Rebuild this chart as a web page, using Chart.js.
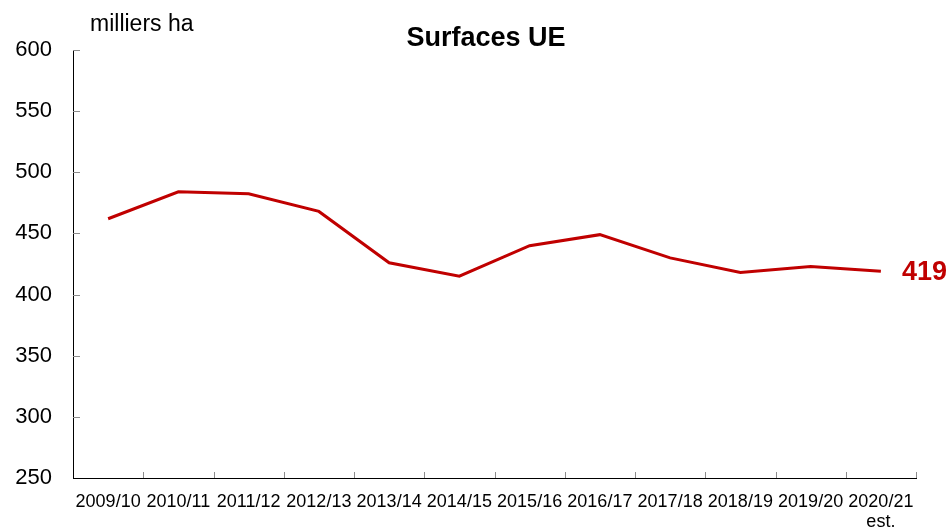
<!DOCTYPE html>
<html>
<head>
<meta charset="utf-8">
<script src="https://cdn.jsdelivr.net/npm/chart.js@4"></script>
<style>
  html, body { margin: 0; padding: 0; background: #fff; }
  #wrap { width: 951px; height: 529px; position: relative; }
</style>
</head>
<body>
<div id="wrap"><canvas id="c" width="951" height="529"></canvas></div>
<script>
const categories = [
  '2009/10', '2010/11', '2011/12', '2012/13', '2013/14', '2014/15',
  '2015/16', '2016/17', '2017/18', '2018/19', '2019/20', ['2020/21', 'est.']
];
const surfaces = [462, 484, 482.5, 468, 426, 415, 440, 449, 430, 418, 423, 419];
const yTicks = [250, 300, 350, 400, 450, 500, 550, 600];
const titleText = 'Surfaces UE';
const unitText = 'milliers ha';

const FONT = "'Liberation Sans', Arial, sans-serif";
const RED = '#C00000';

const overlay = {
  id: 'overlay',
  afterDraw(chart) {
    const ctx = chart.ctx;
    const xs = chart.scales.x, ys = chart.scales.y;
    const area = chart.chartArea;
    ctx.save();
    // inward tick marks
    ctx.strokeStyle = '#8c8c8c';
    ctx.lineWidth = 1;
    ctx.beginPath();
    yTicks.forEach(v => {
      if (v === yTicks[0]) return;
      const y = Math.round(ys.getPixelForValue(v)) + 0.5;
      ctx.moveTo(area.left, y);
      ctx.lineTo(area.left + 7, y);
    });
    for (let i = 1; i <= categories.length; i++) {
      const x = Math.round(area.left + (area.right - area.left) * i / categories.length) + 0.5;
      ctx.moveTo(x, area.bottom);
      ctx.lineTo(x, area.bottom - 6);
    }
    ctx.stroke();

    // title
    ctx.fillStyle = '#000';
    ctx.font = 'bold 27px ' + FONT;
    ctx.textAlign = 'center';
    ctx.textBaseline = 'alphabetic';
    ctx.fillText(titleText, 486, 46);

    // unit
    ctx.font = '23px ' + FONT;
    ctx.textAlign = 'left';
    ctx.fillText(unitText, 90, 31);

    // last value label
    const last = surfaces.length - 1;
    const px = xs.getPixelForValue(last);
    const py = ys.getPixelForValue(surfaces[last]);
    ctx.fillStyle = RED;
    ctx.font = 'bold 27px ' + FONT;
    ctx.textAlign = 'left';
    ctx.textBaseline = 'middle';
    ctx.fillText(String(Math.round(surfaces[last])), px + 21, py + 1);
    ctx.restore();
  }
};

new Chart(document.getElementById('c'), {
  type: 'line',
  data: {
    labels: categories,
    datasets: [{
      data: surfaces,
      borderColor: RED,
      borderWidth: 3,
      pointRadius: 0,
      fill: false,
      tension: 0
    }]
  },
  options: {
    responsive: false,
    animation: false,
    devicePixelRatio: 1,
    layout: { padding: { left: 0, right: 35, top: 50, bottom: 0 } },
    plugins: { legend: { display: false }, title: { display: false }, tooltip: { enabled: false } },
    scales: {
      x: {
        type: 'category',
        offset: true,
        grid: { display: true, drawOnChartArea: false, drawTicks: false, offset: true },
        border: { display: true, color: '#000', width: 1 },
        ticks: {
          color: '#000',
          font: { family: FONT, size: 18, lineHeight: 1.1 },
          padding: 14,
          maxRotation: 0,
          autoSkip: false
        },
        afterFit(scale) { scale.height = 51; }
      },
      y: {
        min: 250,
        max: 600,
        afterBuildTicks(scale) { scale.ticks = yTicks.map(v => ({ value: v })); },
        grid: { display: true, drawOnChartArea: false, drawTicks: false },
        border: { display: true, color: '#000', width: 1 },
        ticks: {
          color: '#000',
          font: { family: FONT, size: 22 },
          padding: 21
        },
        afterFit(scale) { scale.width = 73; }
      }
    }
  },
  plugins: [overlay]
});
</script>
</body>
</html>
